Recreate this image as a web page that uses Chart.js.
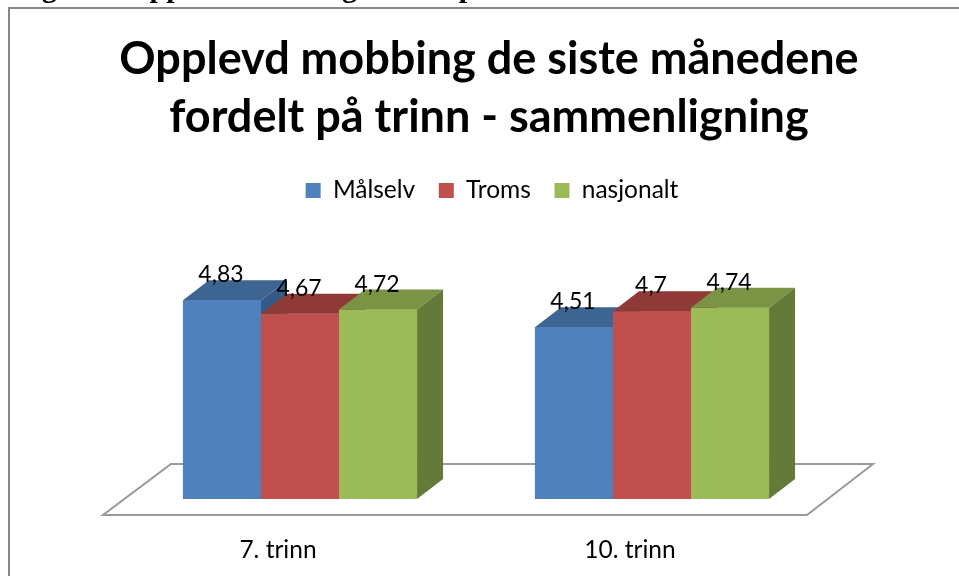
<!DOCTYPE html>
<html lang="nb">
<head>
<meta charset="utf-8">
<style>
html,body{margin:0;padding:0;background:#fff;overflow:hidden;width:959px;height:576px}
canvas{display:block}
#heading{position:absolute;left:15px;top:-30px;font:bold 30px "Liberation Serif",serif;white-space:nowrap;color:#000;line-height:34px}
</style>
<script src="https://cdn.jsdelivr.net/npm/chart.js@4"></script>
</head>
<body>
<div id="heading">Figur 7: Opplevd mobbing fordelt på trinn</div>
<canvas id="c" width="959" height="576"></canvas>
<script>
const titleLines = ["Opplevd mobbing de siste månedene", "fordelt på trinn - sammenligning"];
const categories = ["7. trinn", "10. trinn"];
const seriesNames = ["Målselv", "Troms", "nasjonalt"];
const malselv = [4.83, 4.51];
const troms = [4.67, 4.7];
const nasjonalt = [4.72, 4.74];
const frontColors = ["#4F81BD", "#C0504D", "#9BBB59"];
const topColors = ["#3E6592", "#903A38", "#7A9345"];
const sideColors = ["#345A86", "#7F3331", "#667A38"];
const seriesValues = [malselv, troms, nasjonalt];
const axisMin = 2.49;
const axisMax = 5.858;

const FONT = 'Lato';
const DEPTH_X = 26, DEPTH_Y = 20;

function poly(ctx, pts, fill) {
  ctx.beginPath();
  pts.forEach((p, i) => i ? ctx.lineTo(p[0], p[1]) : ctx.moveTo(p[0], p[1]));
  ctx.closePath();
  ctx.fillStyle = fill;
  ctx.fill();
}

const scene3d = {
  id: 'scene3d',
  afterLayout(chart) {
    chart.legend.left += 3;
    chart.legend.right += 3;
  },
  beforeDraw(chart) {
    const ctx = chart.ctx, a = chart.chartArea, base = chart.scales.y.bottom;
    ctx.save();
    ctx.fillStyle = '#fff';
    ctx.fillRect(0, 0, chart.width, chart.height);
    ctx.strokeStyle = '#868686';
    ctx.lineWidth = 2;
    ctx.beginPath();
    ctx.moveTo(9, chart.height);
    ctx.lineTo(9, 8);
    ctx.lineTo(chart.width, 8);
    ctx.stroke();
    ctx.strokeStyle = '#9A9A9A';
    ctx.lineWidth = 2;
    ctx.beginPath();
    ctx.moveTo(a.left - 21, base + 16);
    ctx.lineTo(a.right - 21, base + 16);
    ctx.lineTo(a.right + 45, base - 35);
    ctx.lineTo(a.left + 47, base - 35);
    ctx.closePath();
    ctx.stroke();
    ctx.restore();
  },
  afterDatasetsDraw(chart) {
    const ctx = chart.ctx;
    ctx.save();
    seriesValues.forEach((vals, d) => {
      chart.getDatasetMeta(d).data.forEach(bar => {
        const p = bar.getProps(['x', 'y', 'base', 'width'], true);
        const l = p.x - p.width / 2, r = p.x + p.width / 2;
        bar.draw(ctx);
        poly(ctx, [[l, p.y], [r, p.y], [r + DEPTH_X, p.y - DEPTH_Y], [l + DEPTH_X, p.y - DEPTH_Y]], topColors[d]);
        poly(ctx, [[r, p.y], [r + DEPTH_X, p.y - DEPTH_Y], [r + DEPTH_X, p.base - DEPTH_Y], [r, p.base]], sideColors[d]);
      });
    });
    ctx.fillStyle = '#000';
    ctx.font = '23px ' + FONT;
    ctx.textAlign = 'center';
    ctx.textBaseline = 'alphabetic';
    seriesValues.forEach((vals, d) => {
      chart.getDatasetMeta(d).data.forEach((bar, i) => {
        const p = bar.getProps(['x', 'y'], true);
        ctx.fillText(String(vals[i]).replace('.', ','), p.x - 1, p.y - 18);
      });
    });
    ctx.restore();
  }
};

new Chart(document.getElementById('c'), {
  type: 'bar',
  data: {
    labels: categories,
    datasets: seriesNames.map((name, d) => ({
      label: name,
      data: seriesValues[d],
      base: axisMin,
      backgroundColor: frontColors[d],
      borderWidth: 0,
      barPercentage: 1,
      categoryPercentage: 0.665
    }))
  },
  plugins: [scene3d],
  options: {
    responsive: false,
    animation: false,
    layout: { padding: { left: 19, right: 0, top: 0, bottom: 0 } },
    plugins: {
      tooltip: { enabled: false },
      title: {
        display: true,
        text: titleLines,
        color: '#000',
        font: { family: FONT, size: 45, weight: 'bold', lineHeight: 1.29 },
        padding: { top: 30, bottom: 8.6 }
      },
      legend: {
        display: true,
        position: 'top',
        labels: {
          boxWidth: 15, boxHeight: 15, padding: 23.6,
          color: '#000',
          font: { family: FONT, size: 24.5 }
        }
      }
    },
    scales: {
      x: {
        grid: { display: false },
        border: { display: false },
        afterFit: s => { s.height = 77; },
        ticks: { color: '#000', font: { family: FONT, size: 24.5 }, padding: 28, labelOffset: -22, autoSkip: false, maxRotation: 0 }
      },
      y: {
        min: axisMin, max: axisMax,
        grid: { display: false },
        border: { display: false },
        ticks: { display: false },
        afterFit: s => { s.width = 105; }
      },
      yr: {
        position: 'right',
        min: 0, max: 1,
        grid: { display: false },
        border: { display: false },
        ticks: { display: false },
        afterFit: s => { s.width = 131; }
      }
    }
  }
});
</script>
</body>
</html>
